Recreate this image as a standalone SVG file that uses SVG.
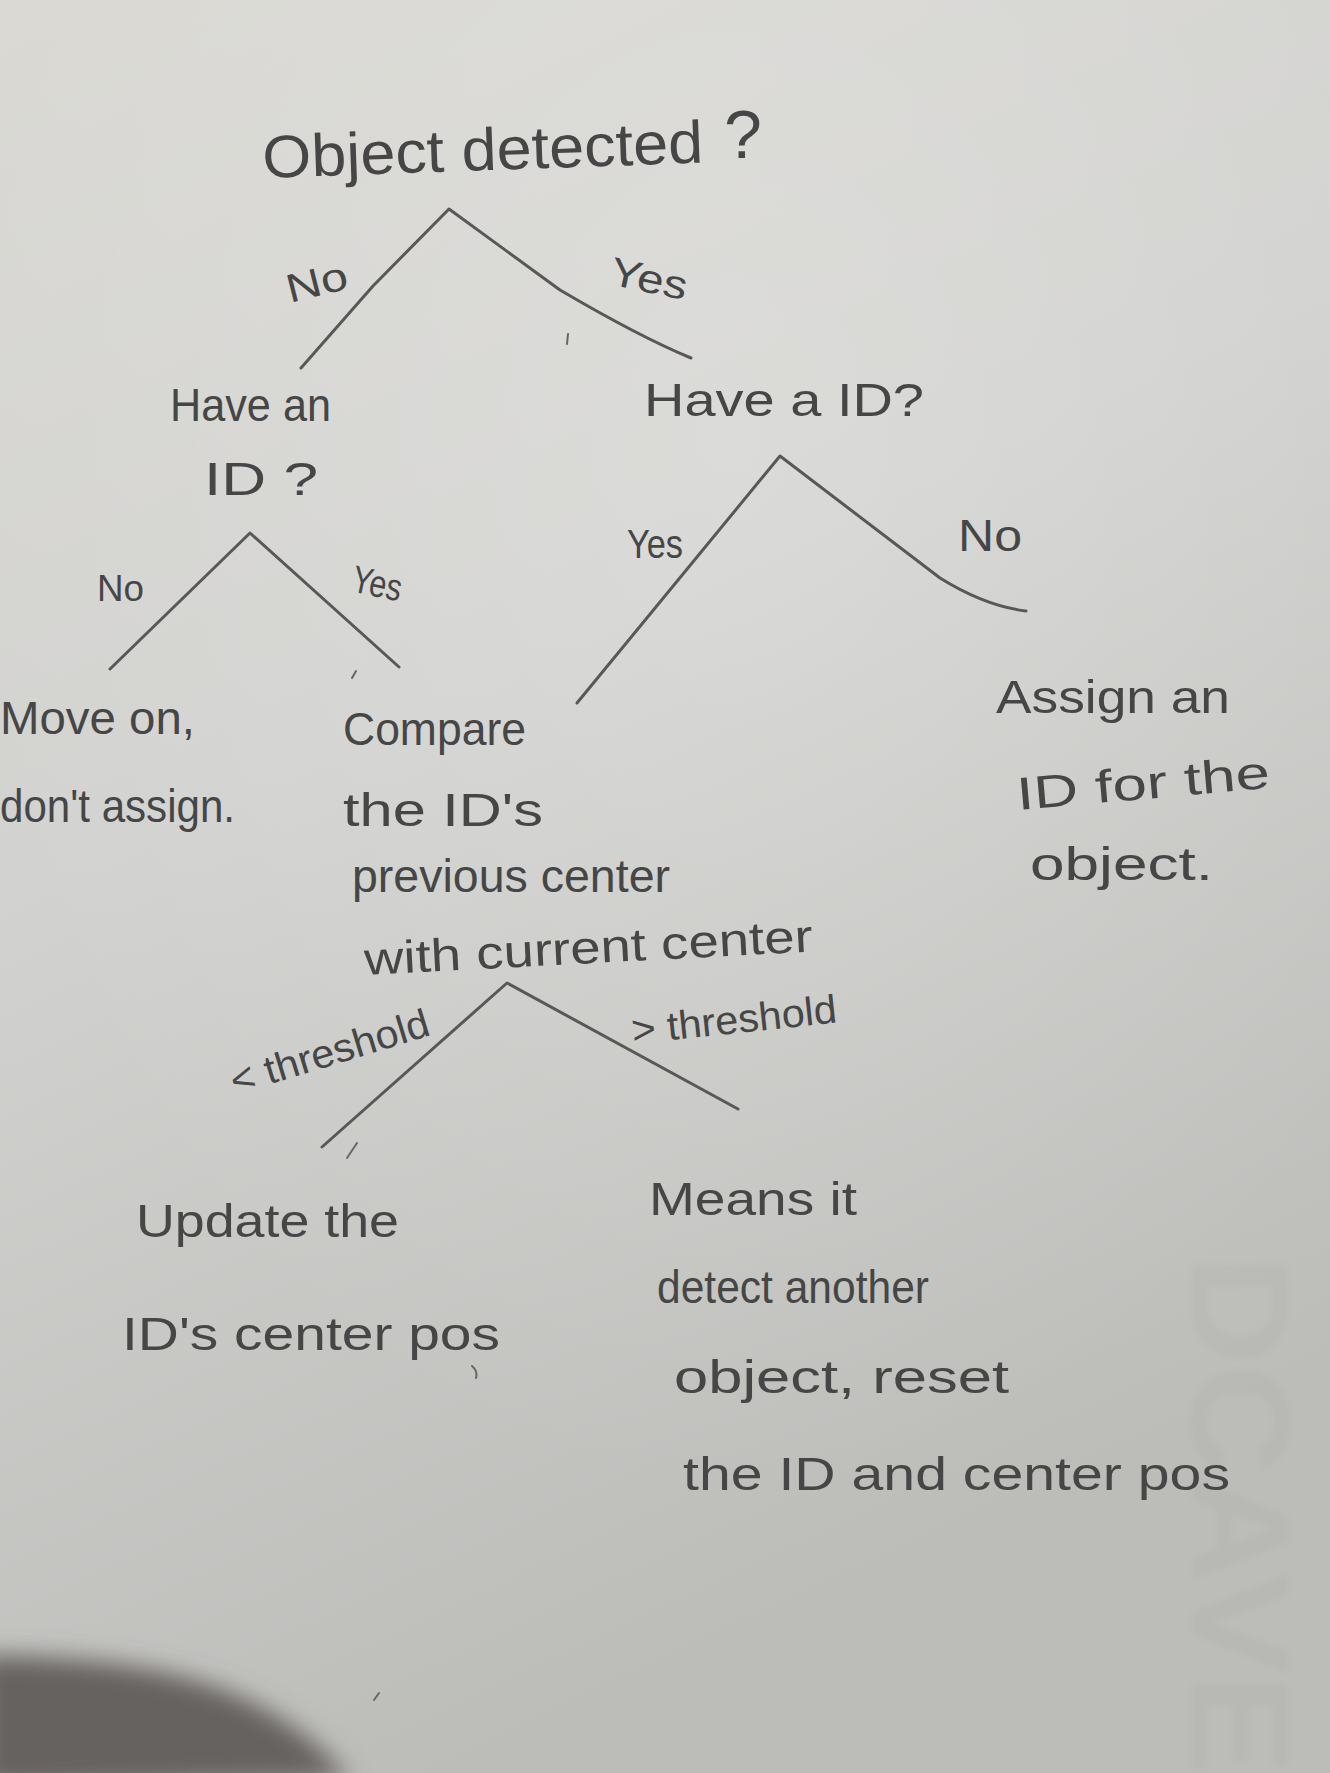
<svg xmlns="http://www.w3.org/2000/svg" width="1330" height="1773" viewBox="0 0 1330 1773">
  <defs>
    <linearGradient id="paper" x1="0" y1="0" x2="0.35" y2="1">
      <stop offset="0" stop-color="#dad9d4"/>
      <stop offset="0.45" stop-color="#d2d2d0"/>
      <stop offset="1" stop-color="#bcbcb9"/>
    </linearGradient>
    <radialGradient id="glow" cx="0.55" cy="0.25" r="0.6">
      <stop offset="0" stop-color="#ffffff" stop-opacity="0.18"/>
      <stop offset="1" stop-color="#ffffff" stop-opacity="0"/>
    </radialGradient>
    <filter id="soft" x="-30%" y="-30%" width="160%" height="160%">
      <feGaussianBlur stdDeviation="12"/>
    </filter>
    <filter id="faint" x="-10%" y="-10%" width="120%" height="120%">
      <feGaussianBlur stdDeviation="3"/>
    </filter>
    <style>
      .pen { fill: none; stroke: #585858; stroke-width: 3; stroke-linecap: round; stroke-linejoin: round; }
      .mark { fill: none; stroke: #666; stroke-width: 2; stroke-linecap: round; }
      .t { font-family: "Liberation Sans", "DejaVu Sans", sans-serif; fill: #464646; font-size: 46px; }
      .title { font-size: 60px; }
      .lbl { font-size: 40px; }
    </style>
  </defs>

  <!-- paper -->
  <rect width="1330" height="1773" fill="url(#paper)"/>
  <rect width="1330" height="1773" fill="url(#glow)"/>

  <!-- print-through lettering on the back of the sheet -->
  <text transform="translate(1192,1255) rotate(90)" font-family="Liberation Sans, sans-serif" font-weight="bold" font-size="140" fill="#000" fill-opacity="0.025" textLength="520" lengthAdjust="spacingAndGlyphs" filter="url(#faint)">DCAVE</text>

  <!-- hand shadow, lower left -->
  <path d="M-20,1655 C120,1658 260,1670 350,1780 L-20,1790 Z" fill="#66625e" filter="url(#soft)"/>

  <!-- branch lines -->
  <g id="connectors">
    <path class="pen" d="M301,368 L373,286 L449,209 L560,290 Q640,337 691,358"/>
    <path class="pen" d="M110,669 L250,533 L399,667"/>
    <path class="pen" d="M577,703 L780,456 L940,578 Q985,606 1026,611"/>
    <path class="pen" d="M322,1147 L507,983 L738,1109"/>

    <text class="t lbl" transform="translate(290,303) rotate(-14)" textLength="62" lengthAdjust="spacingAndGlyphs">No</text>
    <text class="t lbl" transform="translate(608,284) rotate(12)" textLength="78" lengthAdjust="spacingAndGlyphs">Yes</text>
    <text class="t" style="font-size:36px" x="97" y="601" textLength="47" lengthAdjust="spacingAndGlyphs">No</text>
    <text class="t" style="font-size:38px" transform="translate(350,591) rotate(12)" textLength="50" lengthAdjust="spacingAndGlyphs">Yes</text>
    <text class="t" style="font-size:40px" x="627" y="558" textLength="56" lengthAdjust="spacingAndGlyphs">Yes</text>
    <text class="t" style="font-size:44px" x="958" y="551" textLength="64" lengthAdjust="spacingAndGlyphs">No</text>
    <text class="t lbl" transform="translate(235,1095) rotate(-17)" textLength="206" lengthAdjust="spacingAndGlyphs">&lt; threshold</text>
    <text class="t lbl" transform="translate(633,1044) rotate(-6)" textLength="206" lengthAdjust="spacingAndGlyphs">&gt; threshold</text>

    <!-- stray pencil marks -->
    <path class="mark" d="M568,334 L567,344"/>
    <path class="mark" d="M352,678 L356,671"/>
    <path class="mark" d="M347,1158 L357,1143"/>
    <path class="mark" d="M472,1366 Q478,1371 476,1378"/>
    <path class="mark" d="M374,1700 L379,1693"/>
  </g>

  <g id="n-object-detected">
    <text class="t title" transform="translate(263,178) rotate(-2)" textLength="441" lengthAdjust="spacingAndGlyphs">Object detected</text>
    <text class="t" style="font-size:68px" x="724" y="158">?</text>
  </g>

  <g id="n-have-id-left">
    <text class="t" x="170" y="421" textLength="161" lengthAdjust="spacingAndGlyphs">Have an</text>
    <text class="t" x="204" y="495" textLength="114" lengthAdjust="spacingAndGlyphs">ID ?</text>
  </g>

  <g id="n-have-id-right">
    <text class="t" x="644" y="416" textLength="280" lengthAdjust="spacingAndGlyphs">Have a ID?</text>
  </g>

  <g id="n-move-on">
    <text class="t" x="0" y="734" textLength="195" lengthAdjust="spacingAndGlyphs">Move on,</text>
    <text class="t" x="0" y="822" textLength="235" lengthAdjust="spacingAndGlyphs">don't assign.</text>
  </g>

  <g id="n-compare">
    <text class="t" x="343" y="745" textLength="183" lengthAdjust="spacingAndGlyphs">Compare</text>
    <text class="t" x="343" y="826" textLength="200" lengthAdjust="spacingAndGlyphs">the ID's</text>
    <text class="t" x="352" y="892" textLength="318" lengthAdjust="spacingAndGlyphs">previous center</text>
    <text class="t" transform="translate(365,975) rotate(-3)" textLength="449" lengthAdjust="spacingAndGlyphs">with current center</text>
  </g>

  <g id="n-assign">
    <text class="t" x="996" y="713" textLength="234" lengthAdjust="spacingAndGlyphs">Assign an</text>
    <text class="t" transform="translate(1018,810) rotate(-5)" textLength="254" lengthAdjust="spacingAndGlyphs">ID for the</text>
    <text class="t" x="1030" y="880" textLength="183" lengthAdjust="spacingAndGlyphs">object.</text>
  </g>

  <g id="n-update">
    <text class="t" x="136" y="1237" textLength="263" lengthAdjust="spacingAndGlyphs">Update the</text>
    <text class="t" x="122" y="1350" textLength="378" lengthAdjust="spacingAndGlyphs">ID's center pos</text>
  </g>

  <g id="n-reset">
    <text class="t" x="649" y="1215" textLength="208" lengthAdjust="spacingAndGlyphs">Means it</text>
    <text class="t" x="657" y="1303" textLength="272" lengthAdjust="spacingAndGlyphs">detect another</text>
    <text class="t" x="674" y="1393" textLength="335" lengthAdjust="spacingAndGlyphs">object, reset</text>
    <text class="t" x="683" y="1490" textLength="547" lengthAdjust="spacingAndGlyphs">the ID and center pos</text>
  </g>
</svg>
